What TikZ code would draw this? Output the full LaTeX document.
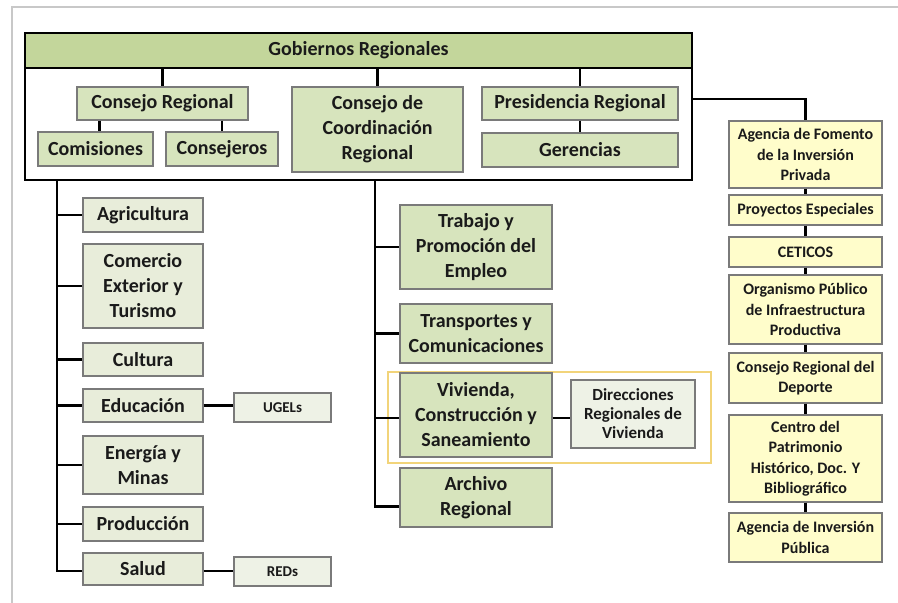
\documentclass[tikz,border=0pt]{standalone}
\usepackage{fontspec}
\setmainfont{Carlito}
\definecolor{bandc}{HTML}{C3D69B}
\definecolor{greenA}{HTML}{D7E4BD}
\definecolor{greenL}{HTML}{E8EDDA}
\definecolor{greenXL}{HTML}{EEF2E6}
\definecolor{yel}{HTML}{FFFDCB}
\definecolor{goldc}{HTML}{F2D47A}
\definecolor{boxgray}{HTML}{7A7A7A}
\definecolor{framec}{HTML}{C8C8C8}
\definecolor{txt}{HTML}{1A1A1A}
\begin{document}
\begin{tikzpicture}[x=1pt,y=-1pt,
  basebox/.style={draw=boxgray, line width=1.3pt, align=center, inner sep=0pt, text=txt},
  bigtxt/.style={font=\bfseries\fontsize{20}{25}\selectfont},
  smalltxt/.style={font=\bfseries\fontsize{16}{20.5}\selectfont},
  tinytxt/.style={font=\bfseries\fontsize{15}{19}\selectfont},
  gbox/.style={basebox, bigtxt, fill=greenA},
  lbox/.style={basebox, bigtxt, fill=greenL},
  xbox/.style={basebox, tinytxt, fill=greenXL},
  ybox/.style={basebox, smalltxt, fill=yel, minimum width=153pt},
  conn/.style={draw=black, line width=2.4pt},
  iconn/.style={draw=black, line width=2.3pt},
  framel/.style={draw=framec, line width=2pt}]
\useasboundingbox (0,0) rectangle (898,603);
\draw[framel] (12,603) -- (12,7) -- (898,7);

% top block
\node[draw=black, line width=2.2pt, fill=white, minimum width=667pt, minimum height=147pt] (gobbox) at (358.5,106.5) {};
\node[draw=black, line width=2.2pt, fill=bandc, minimum width=667pt, minimum height=35pt, bigtxt, text=txt] (gob) at (358.5,50.5) {Gobiernos Regionales};

\node[gbox, minimum width=171pt, minimum height=33pt] (conreg) at (162.5,103.5) {Consejo Regional};
\node[gbox, minimum width=115pt, minimum height=34pt] (comis) at (95.5,149) {Comisiones};
\node[gbox, minimum width=112pt, minimum height=34pt] (consej) at (222,149) {Consejeros};
\node[gbox, minimum width=171pt, minimum height=85pt] (ccr) at (377.5,129.5) {Consejo de\\Coordinación\\Regional};
\node[gbox, minimum width=196pt, minimum height=33pt] (pres) at (580,103.5) {Presidencia Regional};
\node[gbox, minimum width=196pt, minimum height=34pt] (ger) at (580,150) {Gerencias};

\draw[iconn] (gob.south -| conreg.north) -- (conreg.north);
\draw[iconn] (gob.south -| ccr.north) -- (ccr.north);
\draw[iconn] (gob.south -| pres.north) -- (pres.north);
\draw[iconn] ([xshift=4pt]conreg.south -| comis.north) -- ([xshift=4pt]comis.north);
\draw[iconn] (conreg.south -| consej.north) -- (consej.north);
\draw[iconn] (pres.south) -- (ger.north);

% left column
\node[lbox, minimum width=120pt, minimum height=34pt] (agri) at (143,215) {Agricultura};
\node[lbox, minimum width=120pt, minimum height=84pt] (comer) at (143,286) {Comercio\\Exterior y\\Turismo};
\node[lbox, minimum width=120pt, minimum height=33pt] (cult) at (143,359.5) {Cultura};
\node[lbox, minimum width=120pt, minimum height=33pt] (educ) at (143,405.5) {Educación};
\node[lbox, minimum width=120pt, minimum height=58pt] (ener) at (143,465) {Energía y\\Minas};
\node[lbox, minimum width=120pt, minimum height=34pt] (prod) at (143,524) {Producción};
\node[lbox, minimum width=120pt, minimum height=32pt] (salud) at (143,569) {Salud};
\node[xbox, minimum width=97pt, minimum height=29pt] (ugel) at (282.5,407.5) {UGELs};
\node[xbox, minimum width=97pt, minimum height=29pt] (reds) at (282.5,571.5) {REDs};

\coordinate (lt) at (57,180);
\draw[conn] (lt) |- ([yshift=-2pt]salud.west);
\foreach \n in {agri,comer,cult,educ,ener,prod}
  \draw[conn] (lt |- \n.west) -- (\n.west);
\draw[conn] (educ.east) -- (educ.east -| ugel.west);
\draw[conn] ([yshift=-2pt]salud.east) -- ([yshift=-2pt]salud.east -| reds.west);

% middle column
\draw[draw=goldc, line width=1.6pt] (388,372) rectangle (711,463);
\node[gbox, minimum width=152pt, minimum height=84pt] (trab) at (476,247) {Trabajo y\\Promoción del\\Empleo};
\node[gbox, minimum width=152pt, minimum height=59pt] (trans) at (476,333.5) {Transportes y\\Comunicaciones};
\node[gbox, minimum width=152pt, minimum height=84pt] (viv) at (476,415) {Vivienda,\\Construcción y\\Saneamiento};
\node[gbox, minimum width=152pt, minimum height=59pt] (arch) at (476,497.5) {Archivo\\Regional};
\node[xbox, font=\bfseries\fontsize{17}{19}\selectfont, minimum width=124pt, minimum height=68pt] (dir) at (633,414) {Direcciones\\Regionales de\\Vivienda};

\coordinate (mt) at (375,180);
\draw[conn] (mt) |- ([yshift=-9pt]arch.west);
\foreach \n in {trab,trans}
  \draw[conn] (mt |- \n.west) -- (\n.west);
\draw[conn] ([yshift=-3pt]mt |- viv.west) -- ([yshift=-3pt]viv.west);
\draw[conn] ([yshift=-3pt]viv.east) -- ([yshift=-3pt]viv.east -| dir.west);

% right column
\node[ybox, minimum height=67pt] (afip) at (805.5,154.5) {Agencia de Fomento\\de la Inversión\\Privada};
\node[ybox, minimum height=30pt] (proy) at (805.5,210) {Proyectos Especiales};
\node[ybox, minimum height=30pt] (cet) at (805.5,252) {CETICOS};
\node[ybox, minimum height=69pt] (org) at (805.5,309.5) {Organismo Público\\de Infraestructura\\Productiva};
\node[ybox, minimum height=50pt] (crd) at (805.5,378) {Consejo Regional del\\Deporte};
\node[ybox, minimum height=87pt] (cph) at (805.5,458.5) {Centro del\\Patrimonio\\Histórico, Doc. Y\\Bibliográfico};
\node[ybox, minimum height=49pt] (aip) at (805.5,537.5) {Agencia de Inversión\\Pública};

\coordinate (rj) at (692,99);
\draw[conn] (rj) -| (afip.north);
\draw[conn] (afip.south) -- (proy.north);
\draw[conn] (proy.south) -- (cet.north);
\draw[conn] (cet.south) -- (org.north);
\draw[conn] (org.south) -- (crd.north);
\draw[conn] (crd.south) -- (cph.north);
\draw[conn] (cph.south) -- (aip.north);
\end{tikzpicture}
\end{document}
